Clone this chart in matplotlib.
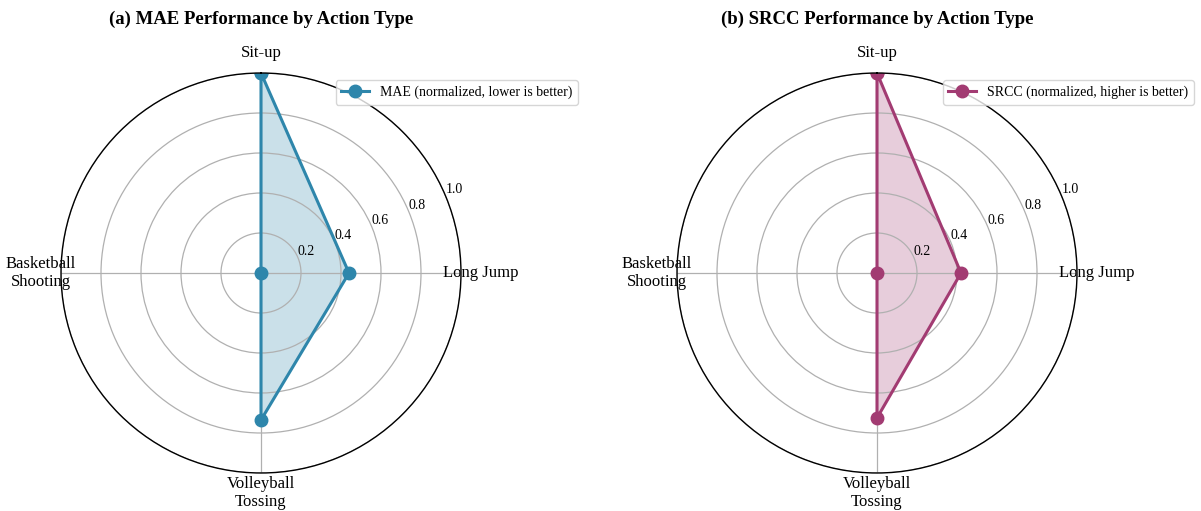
import numpy as np
import matplotlib.pyplot as plt

plt.rcParams['font.family'] = ['Liberation Serif', 'DejaVu Serif']

# action types, clockwise from the top
actions = ['Sit-up', 'Long Jump', 'Volleyball\nTossing', 'Basketball\nShooting']
mae_norm = [1.0, 0.44, 0.735, 0.0]
srcc_norm = [1.0, 0.42, 0.725, 0.0]

r_ticks = [0.2, 0.4, 0.6, 0.8, 1.0]
r_tick_labels = ['0.2', '0.4', '0.6', '0.8', '1.0']

panels = [
    ('(a) MAE Performance by Action Type', mae_norm, '#2E86AB',
     'MAE (normalized, lower is better)'),
    ('(b) SRCC Performance by Action Type', srcc_norm, '#A23B72',
     'SRCC (normalized, higher is better)'),
]

fig = plt.figure(figsize=(12.01, 5.11), dpi=100)
lefts = [61 / 1201, 677 / 1201]

angles = np.linspace(0, 2 * np.pi, len(actions), endpoint=False)
closed = np.concatenate([angles, angles[:1]])

for left, (title, vals, color, label) in zip(lefts, panels):
    ax = fig.add_axes([left, 38 / 511, 400 / 1201, 400 / 511], projection='polar')
    ax.set_theta_offset(np.pi / 2)
    ax.set_theta_direction(-1)

    v = np.concatenate([vals, vals[:1]])
    ax.plot(closed, v, 'o-', color=color, linewidth=2.2, markersize=9, label=label)
    ax.fill(closed, v, color=color, alpha=0.25)

    ax.set_xticks(angles)
    ax.set_xticklabels(actions, fontsize=12)
    ax.tick_params(axis='x', pad=4)
    ax.set_ylim(0, 1.0)
    ax.set_yticks(r_ticks)
    ax.set_yticklabels(r_tick_labels, fontsize=10)
    ax.set_rlabel_position(67.5)
    ax.grid(True, color='#b0b0b0', linewidth=0.9)
    ax.spines['polar'].set_linewidth(1.0)

    ax.set_title(title, fontsize=13.5, fontweight='bold', pad=15)
    ax.legend(loc='upper right', bbox_to_anchor=(1.31, 1.0), fontsize=10)

fig.savefig('out.png', dpi=100)
